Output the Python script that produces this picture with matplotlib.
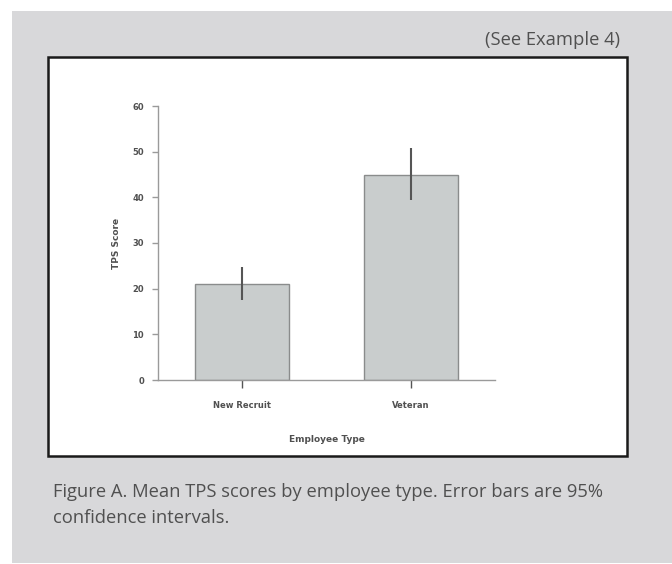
import matplotlib
matplotlib.use("Agg")
import matplotlib.pyplot as plt
from matplotlib.patches import Rectangle

# Data
categories = ["New Recruit", "Veteran"]
means = [21, 45]
ci_low = [17.5, 39.4]
ci_high = [24.7, 50.8]
yticks = [0, 10, 20, 30, 40, 50, 60]

W, H = 672, 564
fig = plt.figure(figsize=(W / 100, H / 100), dpi=100)
fig.patch.set_facecolor("white")

def fx(px):
    return px / W

def fy(py):
    return 1 - py / H

# Gray panel and white framed chart box
fig.add_artist(Rectangle((fx(12), fy(563)), fx(672 - 12), (563 - 11) / H,
                         transform=fig.transFigure, facecolor="#d8d8da",
                         edgecolor="none", zorder=0))
fig.add_artist(Rectangle((fx(48), fy(456)), fx(627 - 48), (456 - 57) / H,
                         transform=fig.transFigure, facecolor="white",
                         edgecolor="#1a1a1a", linewidth=1.8, zorder=1))

ax = fig.add_axes([fx(158), fy(380), fx(495 - 158), (380 - 106) / H])
ax.set_zorder(2)
ax.patch.set_alpha(0)

x = list(range(len(categories)))
yerr = [[m - lo for m, lo in zip(means, ci_low)],
        [hi - m for m, hi in zip(means, ci_high)]]
ax.bar(x, means, width=0.56, color="#c9cdcd", edgecolor="#8a8c8c",
       linewidth=1.0, zorder=2)
ax.errorbar(x, means, yerr=yerr, fmt="none", ecolor="#555555",
            elinewidth=1.5, capsize=0, zorder=3)

ax.set_xlim(-0.5, 1.5)
ax.set_ylim(0, 60)
ax.set_yticks(yticks)
ax.set_xticks(x)
ax.set_xticklabels(categories)

for side in ("top", "right"):
    ax.spines[side].set_visible(False)
for side in ("left", "bottom"):
    ax.spines[side].set_color("#9a9a9a")
    ax.spines[side].set_linewidth(1.0)

ax.tick_params(axis="both", colors="#9a9a9a", length=4, width=1.0,
               labelcolor="#505050", labelsize=6, pad=6)
ax.tick_params(axis="x", length=6, colors="#555555", labelcolor="#505050", pad=9)
for lbl in ax.get_xticklabels() + ax.get_yticklabels():
    lbl.set_fontweight("bold")

ax.set_ylabel("TPS Score", fontsize=6.5, fontweight="bold", color="#505050",
              labelpad=8)
ax.set_xlabel("Employee Type", fontsize=6.5, fontweight="bold", color="#505050",
              labelpad=18)

# Header and caption
fig.text(fx(620), fy(40), "(See Example 4)", ha="right", va="center",
         fontsize=13.2, color="#505050", family="Open Sans")
fig.text(fx(53), fy(492), "Figure A. Mean TPS scores by employee type. Error bars are 95%",
         ha="left", va="center", fontsize=13.2, color="#505050", family="Open Sans")
fig.text(fx(53), fy(518), "confidence intervals.",
         ha="left", va="center", fontsize=13.2, color="#505050", family="Open Sans")

fig.savefig("out.png", dpi=100)
